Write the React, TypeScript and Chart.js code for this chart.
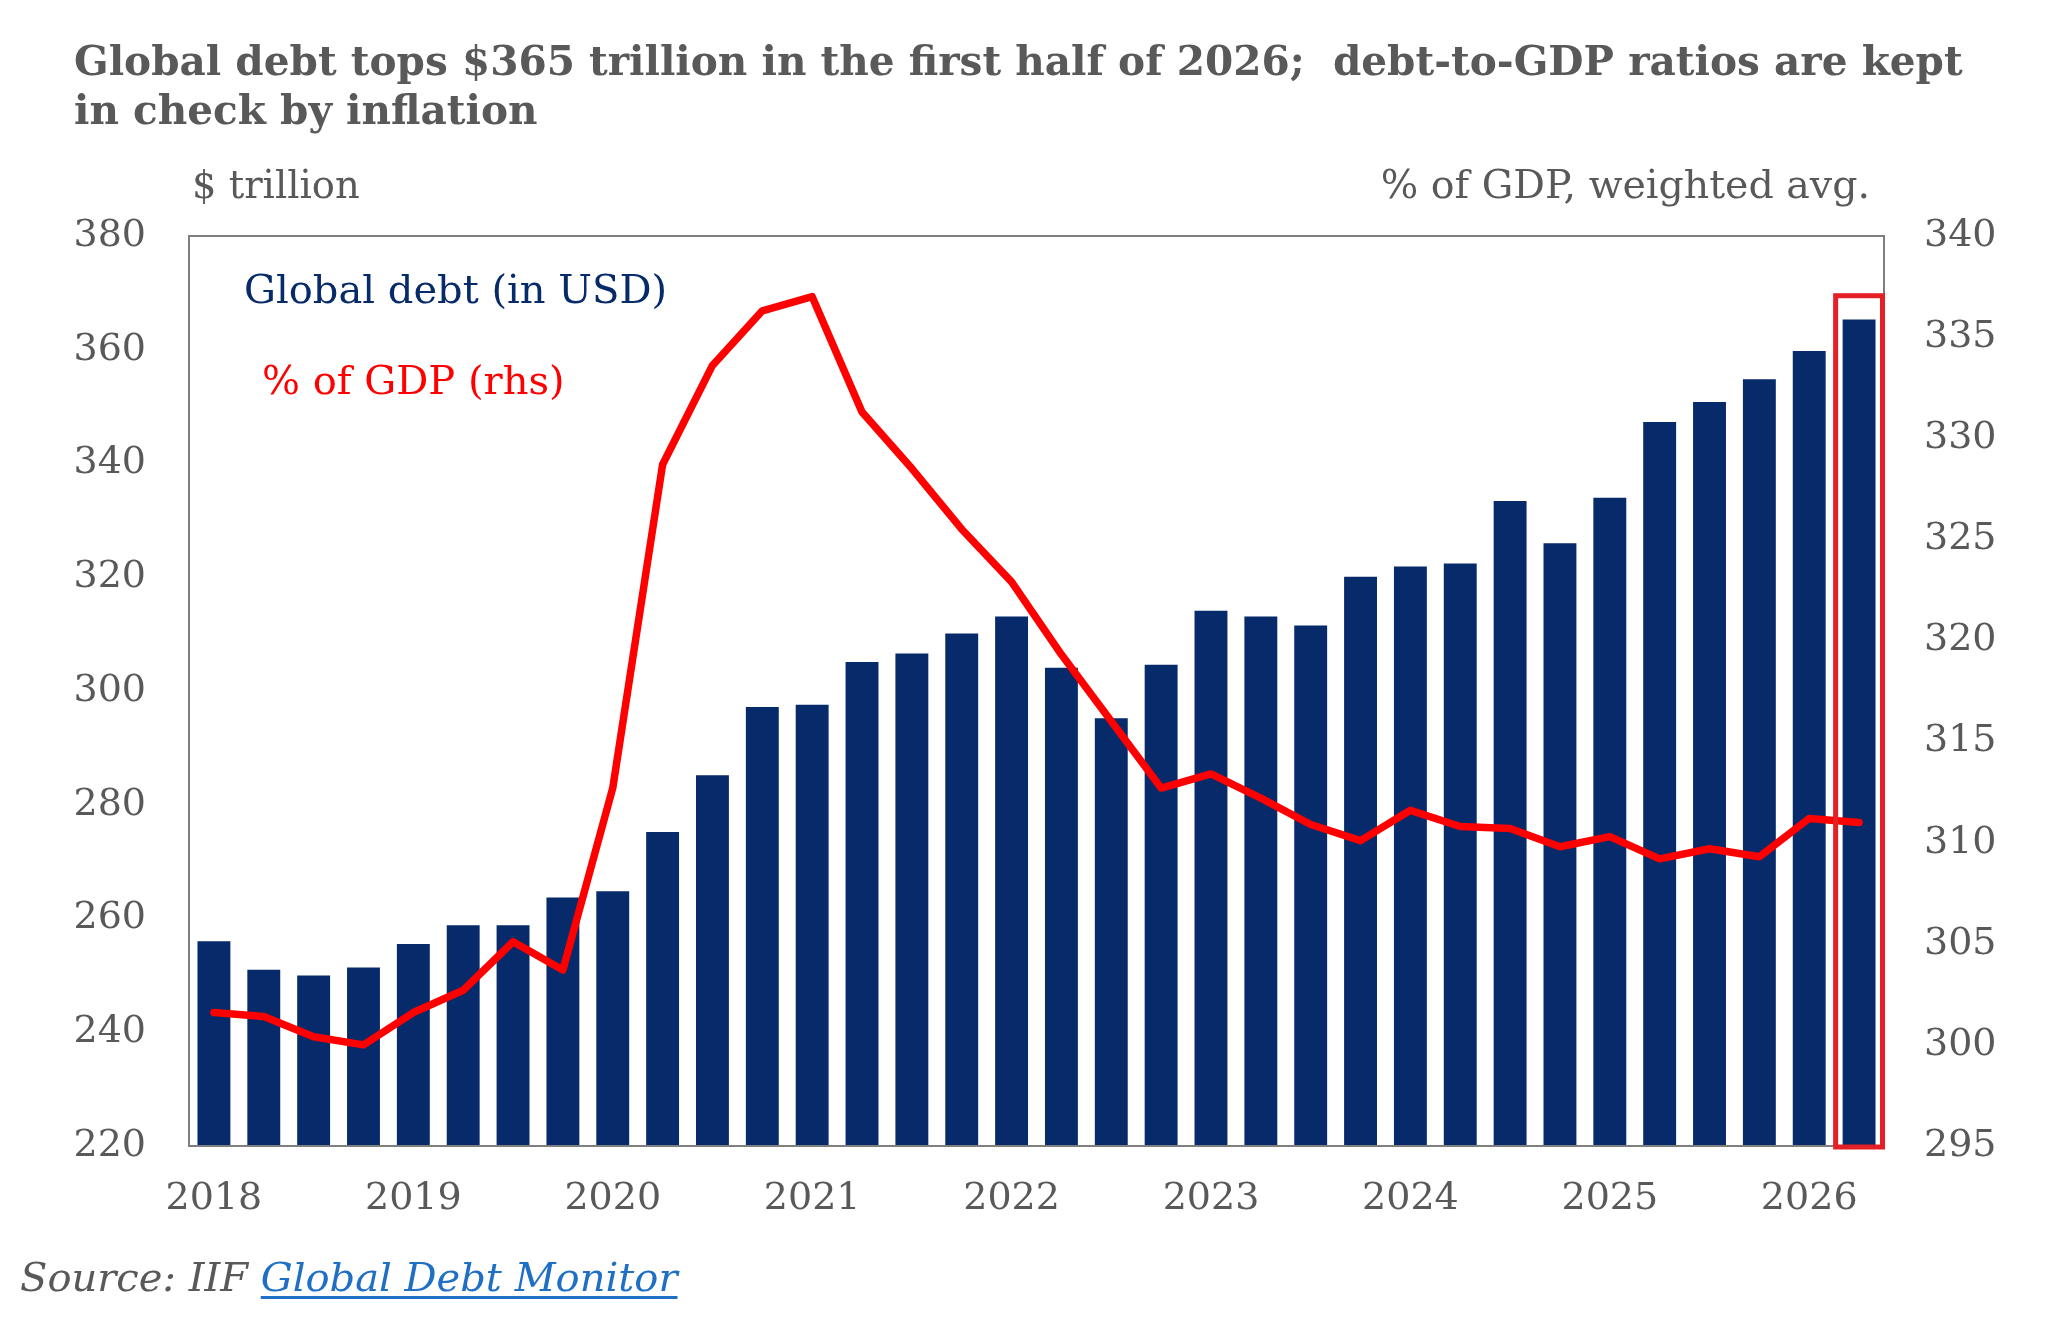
import React, { useEffect, useRef } from "react";
import { Chart, registerables } from "chart.js";

Chart.register(...registerables);

const quarters = [
  "2018Q1", "2018Q2", "2018Q3", "2018Q4",
  "2019Q1", "2019Q2", "2019Q3", "2019Q4",
  "2020Q1", "2020Q2", "2020Q3", "2020Q4",
  "2021Q1", "2021Q2", "2021Q3", "2021Q4",
  "2022Q1", "2022Q2", "2022Q3", "2022Q4",
  "2023Q1", "2023Q2", "2023Q3", "2023Q4",
  "2024Q1", "2024Q2", "2024Q3", "2024Q4",
  "2025Q1", "2025Q2", "2025Q3", "2025Q4",
  "2026Q1", "2026Q2",
];

// Global debt, $ trillion (left axis)
const globalDebt = [
  256.0, 251.0, 250.0, 251.4,
  255.5, 258.8, 258.8, 263.7,
  264.8, 275.2, 285.2, 297.2,
  297.6, 305.1, 306.6, 310.1,
  313.1, 304.1, 295.2, 304.6,
  314.1, 313.1, 311.5, 320.1,
  321.9, 322.4, 333.4, 326.0,
  334.0, 347.3, 350.8, 354.8,
  359.8, 365.3,
];

// Debt, % of GDP weighted avg. (right axis)
const debtToGdp = [
  301.6, 301.4, 300.4, 300.0,
  301.6, 302.7, 305.1, 303.7,
  312.7, 328.7, 333.6, 336.3,
  337.0, 331.3, 328.5, 325.5,
  322.9, 319.3, 316.0, 312.7,
  313.4, 312.2, 310.9, 310.1,
  311.6, 310.8, 310.7, 309.8,
  310.3, 309.2, 309.7, 309.3,
  311.2, 311.0,
];

const leftTicks = { min: 220, max: 380, step: 20 };
const rightTicks = { min: 295, max: 340, step: 5 };

// highlight box around the latest quarter (top in $ trillion units)
const highlightIndex = quarters.length - 1;
const highlightTop = 369.5;

const GRAY = "#595959";
const NAVY = "#062a6a";
const RED = "#ff0000";
const BOX_RED = "#e41f26";
const TICK_FONT = "'DejaVu Serif', serif";

const framePlugin = {
  id: "frameAndHighlight",
  afterDatasetsDraw(chart: any) {
    const { ctx, chartArea } = chart;
    const x = chart.scales.x;
    const y = chart.scales.y;
    ctx.save();
    ctx.strokeStyle = "#7f7f7f";
    ctx.lineWidth = 2;
    ctx.strokeRect(chartArea.left, chartArea.top, chartArea.right - chartArea.left, chartArea.bottom - chartArea.top);
    const cx = x.getPixelForValue(highlightIndex);
    const band = (chartArea.right - chartArea.left) / quarters.length;
    const lw = 5;
    const left = cx - band / 2 + lw / 2 - 1;
    const right = cx + band / 2 - lw / 2 + 1;
    const top = y.getPixelForValue(highlightTop);
    const bottom = chartArea.bottom + 1;
    ctx.strokeStyle = BOX_RED;
    ctx.lineWidth = lw;
    ctx.strokeRect(left, top, right - left, bottom - top);
    ctx.restore();
  },
};

export default function App() {
  const canvasRef = useRef<HTMLCanvasElement | null>(null);

  useEffect(() => {
    const canvas = canvasRef.current;
    if (!canvas) return;
    const chart = new Chart(canvas, {
      data: {
        labels: quarters,
        datasets: [
          {
            type: "line",
            label: "% of GDP (rhs)",
            data: debtToGdp,
            yAxisID: "y1",
            borderColor: RED,
            borderWidth: 7.5,
            pointRadius: 0,
            tension: 0,
            borderJoinStyle: "round",
            borderCapStyle: "round",
            order: 0,
          },
          {
            type: "bar",
            label: "Global debt (in USD)",
            data: globalDebt,
            yAxisID: "y",
            backgroundColor: NAVY,
            borderWidth: 0,
            categoryPercentage: 1,
            barPercentage: 0.66,
            order: 1,
          },
        ],
      } as any,
      options: {
        responsive: false,
        animation: false,
        devicePixelRatio: 1,
        layout: { padding: { top: 236, left: 0, right: 0, bottom: 0 } },
        plugins: {
          legend: { display: false },
          tooltip: { enabled: false },
          title: { display: false },
        },
        scales: {
          x: {
            type: "category",
            offset: true,
            grid: { display: false, drawTicks: false },
            border: { display: false },
            ticks: {
              autoSkip: false,
              maxRotation: 0,
              minRotation: 0,
              padding: 30,
              color: GRAY,
              font: { family: TICK_FONT, size: 38 },
              callback: (_v: any, i: number) => (quarters[i].endsWith("Q1") ? quarters[i].slice(0, 4) : ""),
            },
            afterFit: (s: any) => {
              s.height = 189;
            },
          },
          y: {
            position: "left",
            min: leftTicks.min,
            max: leftTicks.max,
            grid: { display: false, drawTicks: false },
            border: { display: false },
            ticks: {
              stepSize: leftTicks.step,
              padding: 43,
              color: GRAY,
              font: { family: TICK_FONT, size: 38 },
            },
            afterFit: (s: any) => {
              s.width = 189;
            },
          },
          y1: {
            position: "right",
            min: rightTicks.min,
            max: rightTicks.max,
            grid: { display: false, drawTicks: false },
            border: { display: false },
            ticks: {
              stepSize: rightTicks.step,
              padding: 40,
              color: GRAY,
              font: { family: TICK_FONT, size: 38 },
            },
            afterFit: (s: any) => {
              s.width = 164;
            },
          },
        },
      } as any,
      plugins: [framePlugin],
    });
    return () => chart.destroy();
  }, []);

  const abs = (extra: React.CSSProperties): React.CSSProperties => ({
    position: "absolute",
    whiteSpace: "pre",
    margin: 0,
    ...extra,
  });

  return (
    <div style={{ position: "fixed", left: 0, top: 0, width: 2048, height: 1335, background: "#fff", overflow: "hidden" }}>
      <canvas ref={canvasRef} width={2048} height={1335} style={{ position: "absolute", left: 0, top: 0, width: 2048, height: 1335 }} />
      <div
        style={abs({
          left: 74,
          top: 37,
          fontFamily: "'DejaVu Serif', serif",
          fontWeight: 700,
          fontSize: 40.6,
          lineHeight: "49px",
          color: GRAY,
        })}
      >
        {"Global debt tops $365 trillion in the first half of 2026;  debt-to-GDP ratios are kept\nin check by inflation"}
      </div>
      <div style={abs({ left: 192, top: 166, fontFamily: TICK_FONT, fontSize: 38.5, lineHeight: "38px", color: GRAY })}>
        $ trillion
      </div>
      <div style={abs({ right: 178, top: 165, fontFamily: TICK_FONT, fontSize: 39.5, lineHeight: "39px", color: GRAY })}>
        % of GDP, weighted avg.
      </div>
      <div style={abs({ left: 244, top: 269, fontFamily: TICK_FONT, fontSize: 40, lineHeight: "40px", color: NAVY })}>
        Global debt (in USD)
      </div>
      <div style={abs({ left: 262, top: 360, fontFamily: TICK_FONT, fontSize: 40, lineHeight: "40px", color: RED })}>
        % of GDP (rhs)
      </div>
      <div
        style={abs({
          left: 20,
          top: 1257,
          fontFamily: "'DejaVu Serif', serif",
          fontStyle: "italic",
          fontSize: 40,
          lineHeight: "40px",
          color: GRAY,
        })}
      >
        {"Source: IIF "}
        <span style={{ color: "#1f6fc4", textDecoration: "underline", textDecorationThickness: "3px", textUnderlineOffset: "5px" }}>
          Global Debt Monitor
        </span>
      </div>
    </div>
  );
}
